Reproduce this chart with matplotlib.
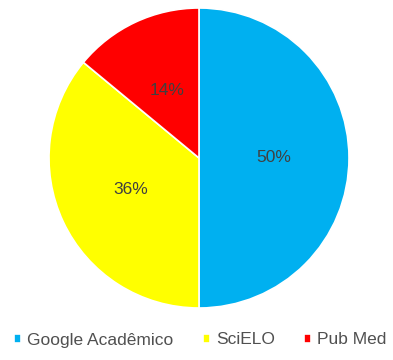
#----- importing modules -----
import matplotlib.pyplot as plt

#----- data -----
sources = ["Google Acadêmico", "SciELO", "Pub Med"]
shares = [50, 36, 14]
colors = ["#00B0F0", "#FFFF00", "#FF0000"]

plt.rcParams['font.family'] = ['Liberation Sans', 'DejaVu Sans']

fig = plt.figure(figsize=(3.93, 3.60), dpi=100)
# pie area: center ~ (199,158), radius ~150 px
ax = fig.add_axes([(199 - 150) / 393, (360 - 158 - 150) / 360, 300 / 393, 300 / 360])

wedges, texts, autotexts = ax.pie(shares, colors=colors, startangle=90, counterclock=False,
                                  autopct='%1.0f%%', pctdistance=0.5,
                                  wedgeprops=dict(edgecolor='white', linewidth=1.2),
                                  textprops=dict(color='#404040', fontsize=12.5))
ax.set_aspect('equal')
ax.set_xlim(-1, 1)
ax.set_ylim(-1, 1)

fig.legend(wedges, sources, loc='center', bbox_to_anchor=(0.51, 1 - 340 / 360), ncol=3,
           frameon=False, fontsize=12.5, labelcolor='#505050',
           handlelength=0.4, handleheight=0.4, handletextpad=0.35, columnspacing=1.7,
           borderpad=0, borderaxespad=0)

fig.savefig("out.png", dpi=100, facecolor='white')
